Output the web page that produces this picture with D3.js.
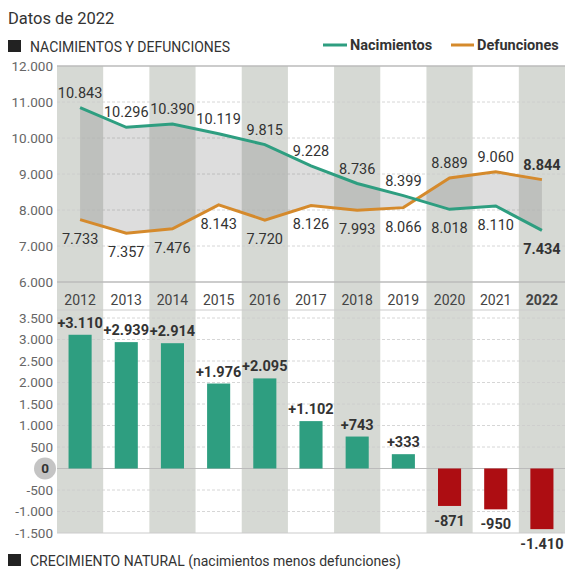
<!DOCTYPE html>
<html>
<head>
<meta charset="utf-8">
<script src="https://cdn.jsdelivr.net/npm/d3@7"></script>
<style>
  body { margin: 0; background: #fff; font-family: Roboto, "Noto Sans", sans-serif; }
  svg text { font-family: Roboto, "Noto Sans", sans-serif; }
</style>
</head>
<body>
<div id="wrapper"></div>
<script>
// Datos
const years = ["2012","2013","2014","2015","2016","2017","2018","2019","2020","2021","2022"];
const nacimientos = [10843, 10296, 10390, 10119, 9815, 9228, 8736, 8399, 8018, 8110, 7434];
const defunciones = [7733, 7357, 7476, 8143, 7720, 8126, 7993, 8066, 8889, 9060, 8844];
const crecimiento = [3110, 2939, 2914, 1976, 2095, 1102, 743, 333, -871, -950, -1410];
const topTicks = [6000, 7000, 8000, 9000, 10000, 11000, 12000];
const bottomTicks = [-1500, -1000, -500, 0, 500, 1000, 1500, 2000, 2500, 3000, 3500];

const locale = d3.formatLocale({ decimal: ",", thousands: ".", grouping: [3], currency: ["", "€"], minus: "-" });
const fmt = locale.format(",d");
const fmtSigned = d => (d > 0 ? "+" : "") + fmt(d);

const W = 571, H = 571;
const svg = d3.select("#wrapper").append("svg").attr("width", W).attr("height", H);

const colNac = "#2e9e80", colDef = "#d58a2c", colStripe = "#d6d9d4", colRed = "#ad0d12";

// Escalas
const x = d3.scaleBand().domain(years).range([57, 565]).padding(0);
const yTop = d3.scaleLinear().domain([6000, 12000]).range([282, 66]);
const yBot = d3.scaleLinear().domain([-1500, 3500]).range([533, 318]);
const cx = d => x(d) + x.bandwidth() / 2;

// Franjas de columnas
svg.append("g").selectAll("rect")
  .data(years.filter((d, i) => i % 2 === 0))
  .join("rect")
    .attr("x", d => x(d))
    .attr("width", x.bandwidth())
    .attr("y", yTop(12000))
    .attr("height", yBot(-1500) - yTop(12000))
    .attr("fill", colStripe);

// Títulos
svg.append("text").attr("x", 8).attr("y", 24).attr("font-size", 16.5).attr("fill", "#333").text("Datos de 2022");
svg.append("rect").attr("x", 8).attr("y", 40).attr("width", 13).attr("height", 12).attr("fill", "#222");
svg.append("text").attr("x", 30).attr("y", 52).attr("font-size", 14).attr("fill", "#333").text("NACIMIENTOS Y DEFUNCIONES");

// Leyenda
const legend = svg.append("g").attr("font-size", 14.5).attr("font-weight", "bold").attr("fill", "#333");
legend.append("line").attr("x1", 323).attr("x2", 347).attr("y1", 45).attr("y2", 45).attr("stroke", colNac).attr("stroke-width", 3);
legend.append("text").attr("x", 350).attr("y", 50).text("Nacimientos");
legend.append("line").attr("x1", 451).attr("x2", 474).attr("y1", 45).attr("y2", 45).attr("stroke", colDef).attr("stroke-width", 3);
legend.append("text").attr("x", 477).attr("y", 50).text("Defunciones");

// Rejilla superior
svg.append("g").selectAll("line")
  .data(topTicks)
  .join("line")
    .attr("x1", 57).attr("x2", 565)
    .attr("y1", d => yTop(d)).attr("y2", d => yTop(d))
    .attr("stroke", d => (d === 6000 || d === 12000) ? "#bbb" : "#ccc")
    .attr("stroke-width", d => (d === 6000 || d === 12000) ? 1.5 : 0.8)
    .attr("stroke-dasharray", d => (d === 6000 || d === 12000) ? null : "3,2");

// Ejes
const yTopAxis = svg.append("g")
  .attr("transform", "translate(53,0)")
  .call(d3.axisLeft(yTop).tickValues(topTicks).tickFormat(fmt).tickSize(0).tickPadding(0));
yTopAxis.select(".domain").remove();
yTopAxis.selectAll("text").attr("font-size", 13.5).attr("fill", "#666").attr("font-family", "Roboto, sans-serif");

// Área entre líneas
const area = d3.area()
  .x((d, i) => cx(years[i]))
  .y0((d, i) => yTop(nacimientos[i]))
  .y1((d, i) => yTop(defunciones[i]));
svg.append("path").attr("d", area(years)).attr("fill", "#777").attr("opacity", 0.25);

const line = d3.line().x((d, i) => cx(years[i])).y(d => yTop(d));
svg.append("path").attr("d", line(defunciones)).attr("fill", "none").attr("stroke", colDef).attr("stroke-width", 3);
svg.append("path").attr("d", line(nacimientos)).attr("fill", "none").attr("stroke", colNac).attr("stroke-width", 3);

// Etiquetas de valores
const lab = svg.append("g").attr("font-size", 14.5).attr("fill", "#333").attr("text-anchor", "middle");
years.forEach((yr, i) => {
  const nacAbove = nacimientos[i] >= defunciones[i];
  const bold = yr === "2022" ? "bold" : "normal";
  lab.append("text")
    .attr("x", cx(yr))
    .attr("y", yTop(nacimientos[i]) + (nacAbove ? -10 : 24))
    .attr("font-weight", bold)
    .text(fmt(nacimientos[i]));
  lab.append("text")
    .attr("x", cx(yr))
    .attr("y", yTop(defunciones[i]) + (nacAbove ? 24 : -10))
    .attr("font-weight", bold)
    .text(fmt(defunciones[i]));
});

// Fila de años
svg.append("line").attr("x1", 57).attr("x2", 565).attr("y1", 310).attr("y2", 310).attr("stroke", "#ccc");
svg.append("g").selectAll("text")
  .data(years)
  .join("text")
    .attr("x", d => cx(d))
    .attr("y", 305)
    .attr("text-anchor", "middle")
    .attr("font-size", 14)
    .attr("fill", "#444")
    .attr("font-weight", d => d === "2022" ? "bold" : "normal")
    .text(d => d);

// Rejilla inferior
svg.append("g").selectAll("line")
  .data(bottomTicks)
  .join("line")
    .attr("x1", 57).attr("x2", 565)
    .attr("y1", d => yBot(d)).attr("y2", d => yBot(d))
    .attr("stroke", d => d === 0 ? "#bbb" : "#ccc")
    .attr("stroke-width", d => (d === 0 || d === -1500) ? 1.2 : 0.8)
    .attr("stroke-dasharray", d => (d === 0 || d === -1500) ? null : "3,2");

svg.append("circle").attr("cx", 45).attr("cy", yBot(0)).attr("r", 11).attr("fill", "#c4c4c4");

const yBotAxis = svg.append("g")
  .attr("transform", "translate(53,0)")
  .call(d3.axisLeft(yBot).tickValues(bottomTicks).tickFormat(fmt).tickSize(0).tickPadding(0));
yBotAxis.select(".domain").remove();
yBotAxis.selectAll("text").attr("font-size", 13.5).attr("fill", "#666").attr("font-family", "Roboto, sans-serif");
yBotAxis.selectAll(".tick").filter(d => d === 0).select("text")
  .attr("text-anchor", "middle").attr("x", -8).attr("font-weight", "bold").attr("fill", "#333");

// Barras
const barW = x.bandwidth() * 0.5;
svg.append("g").selectAll("rect")
  .data(crecimiento)
  .join("rect")
    .attr("x", (d, i) => cx(years[i]) - barW / 2)
    .attr("width", barW)
    .attr("y", d => yBot(Math.max(0, d)))
    .attr("height", d => Math.abs(yBot(d) - yBot(0)))
    .attr("fill", d => d >= 0 ? colNac : colRed);

svg.append("g").selectAll("text")
  .data(crecimiento)
  .join("text")
    .attr("x", (d, i) => cx(years[i]))
    .attr("y", d => d >= 0 ? yBot(d) - 7 : yBot(d) + 20)
    .attr("text-anchor", "middle")
    .attr("font-size", 14.5)
    .attr("font-weight", "bold")
    .attr("fill", "#333")
    .text(fmtSigned);

// Pie
svg.append("rect").attr("x", 8).attr("y", 554).attr("width", 13).attr("height", 12).attr("fill", "#222");
svg.append("text").attr("x", 30).attr("y", 566).attr("font-size", 14).attr("fill", "#333")
  .text("CRECIMIENTO NATURAL (nacimientos menos defunciones)");
</script>
</body>
</html>
